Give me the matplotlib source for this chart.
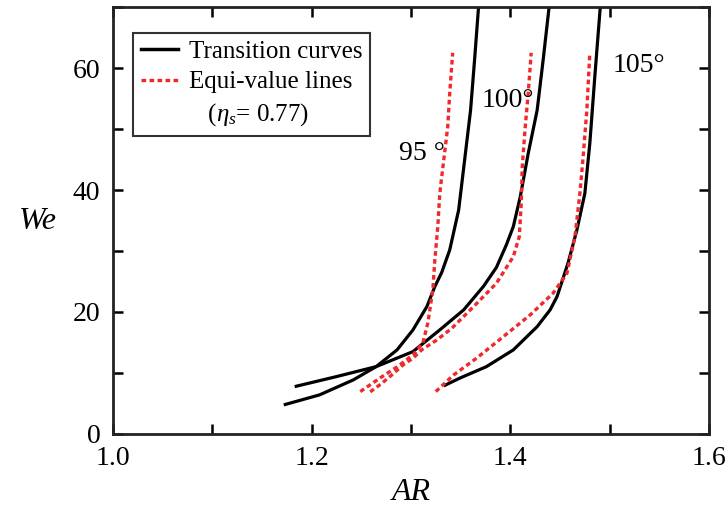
import matplotlib
matplotlib.use("Agg")
import matplotlib.pyplot as plt
from matplotlib.lines import Line2D

plt.rcParams['font.family'] = ['Liberation Serif', 'DejaVu Serif']
plt.rcParams['mathtext.fontset'] = 'custom'
plt.rcParams['mathtext.rm'] = 'Liberation Serif'
plt.rcParams['mathtext.it'] = 'Liberation Serif:italic'

# transition curves (black)
ar_95 = [1.172, 1.208, 1.242, 1.265, 1.286, 1.302, 1.316, 1.324, 1.331, 1.339,
         1.348, 1.354, 1.360, 1.364, 1.368]
we_95 = [4.75, 6.39, 8.85, 11.03, 13.77, 17.05, 20.87, 24.15, 26.5, 30.16,
         36.72, 44.92, 53.11, 61.31, 70.0]

ar_100 = [1.183, 1.225, 1.265, 1.302, 1.329, 1.353, 1.373, 1.386, 1.396, 1.403,
          1.410, 1.418, 1.427, 1.433, 1.439]
we_100 = [7.75, 9.39, 11.03, 13.49, 17.05, 20.33, 24.2, 27.3, 31.0, 34.0,
          38.9, 46.0, 53.1, 61.3, 70.0]

ar_105 = [1.333, 1.349, 1.376, 1.403, 1.427, 1.440, 1.447, 1.458, 1.467, 1.475,
          1.480, 1.485, 1.4905]
we_105 = [7.87, 9.13, 11.03, 13.77, 17.59, 20.33, 22.51, 27.98, 33.44, 39.46,
          47.66, 58.57, 70.0]

# equi-value lines (red dotted), eta_s = 0.77
eq_ar_95 = [1.249, 1.269, 1.286, 1.302, 1.312, 1.317, 1.322, 1.324, 1.327, 1.329,
            1.333, 1.337, 1.339, 1.342]
eq_we_95 = [6.93, 9.18, 10.98, 12.95, 14.92, 18.2, 23.6, 28.5, 33.98, 39.46,
            44.92, 50.38, 55.85, 62.51]

eq_ar_100 = [1.259, 1.270, 1.281, 1.292, 1.302, 1.311, 1.326, 1.341, 1.363, 1.386,
             1.403, 1.409, 1.411, 1.412, 1.415, 1.418, 1.421]
eq_we_100 = [6.89, 8.2, 9.7, 11.3, 12.4, 13.8, 15.4, 17.3, 20.87, 24.70,
             29.07, 32.34, 37.82, 43.82, 50.38, 55.85, 62.51]

eq_ar_105 = [1.325, 1.343, 1.366, 1.393, 1.420, 1.443, 1.457, 1.465, 1.470, 1.473,
             1.477, 1.480]
eq_we_105 = [6.93, 9.67, 12.41, 15.95, 19.51, 23.07, 26.34, 32.34, 39.46, 44.92,
             53.11, 62.51]

red = '#ee2a2e'
fig = plt.figure(figsize=(7.28, 5.11), dpi=100)
ax = fig.add_axes([0.155, 0.151, 0.819, 0.835])

for x, y in [(ar_95, we_95), (ar_100, we_100), (ar_105, we_105)]:
    ax.plot(x, y, color='black', lw=2.3, solid_capstyle='butt', solid_joinstyle='round')
for x, y in [(eq_ar_95, eq_we_95), (eq_ar_100, eq_we_100), (eq_ar_105, eq_we_105)]:
    ax.plot(x, y, color=red, lw=2.4, linestyle=(0, (1.4, 1.0)))

ax.text(1.288, 46, '95 °', fontsize=20, ha='left', va='center')
ax.text(1.371, 54.7, '100°', fontsize=20, ha='left', va='center')
ax.text(1.503, 60.4, '105°', fontsize=20, ha='left', va='center')

ax.set_xlim(1.0, 1.6)
ax.set_ylim(0, 70)
ax.set_xticks([1.0, 1.1, 1.2, 1.3, 1.4, 1.5, 1.6])
ax.set_xticklabels(['1.0', '', '1.2', '', '1.4', '', '1.6'])
ax.set_yticks([0, 10, 20, 30, 40, 50, 60, 70])
ax.set_yticklabels(['0', '', '20', '', '40', '', '60', ''])
ax.tick_params(direction='in', length=7, width=1.8, labelsize=20,
               top=True, right=True, pad=9)
for s in ax.spines.values():
    s.set_linewidth(2)
    s.set_color('#222222')

ax.set_xlabel('AR', fontsize=23, style='italic', labelpad=5)
ax.set_ylabel('We', fontsize=23, style='italic', rotation=0, va='center')
ax.yaxis.set_label_coords(-0.125, 0.497)

handles = [Line2D([], [], color='black', lw=2.5),
           Line2D([], [], color=red, lw=2.4, linestyle=(0, (1.4, 1.0))),
           Line2D([], [], color='none')]
labels = ['Transition curves', 'Equi-value lines', '   ($\\eta_s$= 0.77)']
leg = ax.legend(handles, labels, loc='upper left', bbox_to_anchor=(0.034, 0.94),
                borderaxespad=0, fontsize=18, handlelength=1.5, handletextpad=0.45,
                labelspacing=0.32, frameon=True, fancybox=False, borderpad=0.3)
leg.get_frame().set_edgecolor('black')
leg.get_frame().set_linewidth(1.5)

fig.savefig('out.png', dpi=100)
